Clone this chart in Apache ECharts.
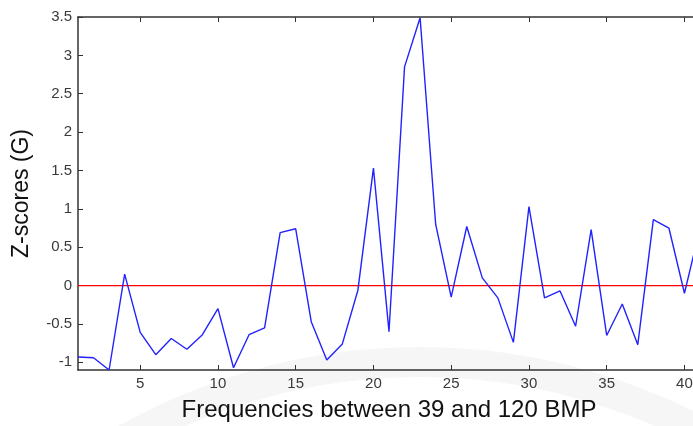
<!DOCTYPE html>
<html>
<head>
<meta charset="utf-8">
<script src="https://cdn.jsdelivr.net/npm/echarts@6/dist/echarts.min.js"></script>
<style>
html,body{margin:0;padding:0;background:#fff;}
#chart{width:693px;height:426px;}
</style>
</head>
<body>
<div id="chart"></div>
<script>
const frequencies = [1,2,3,4,5,6,7,8,9,10,11,12,13,14,15,16,17,18,19,20,21,22,23,24,25,26,27,28,29,30,31,32,33,34,35,36,37,38,39,40,41];
const zScores = [-0.93,-0.94,-1.1,0.15,-0.61,-0.9,-0.69,-0.83,-0.64,-0.3,-1.07,-0.64,-0.55,0.69,0.74,-0.47,-0.97,-0.76,-0.06,1.53,-0.6,2.85,3.49,0.8,-0.15,0.77,0.1,-0.16,-0.74,1.03,-0.16,-0.07,-0.53,0.73,-0.65,-0.24,-0.77,0.86,0.75,-0.1,0.75];
const zeroLineX = [1,41];
const zeroLineY = [0,0];
const xTicks = [5,10,15,20,25,30,35,40];
const yTicks = [-1,-0.5,0,0.5,1,1.5,2,2.5,3,3.5];
const xTitle = 'Frequencies between 39 and 120 BMP';
const yTitle = 'Z-scores (G)';

const axisColor = '#333';
const chart = echarts.init(document.getElementById('chart'));
const tickStyle = {show:true, inside:true, length:5, lineStyle:{color:axisColor,width:1}};
chart.setOption({
  animation:false,
  backgroundColor:'#fff',
  graphic:[{
    type:'circle', z:-10, silent:true,
    shape:{cx:420, cy:962, r:600},
    style:{fill:'none', stroke:'#f6f6f6', lineWidth:30}
  }],
  grid:{left:78, top:17, right:-7, bottom:56, outerBoundsMode:'none', containLabel:false},
  xAxis:[{
    type:'value', min:1, max:41,
    name:xTitle, nameLocation:'middle', nameGap:28,
    nameTextStyle:{fontFamily:'Liberation Sans, Arial', fontSize:24, color:'#111'},
    axisLine:{show:true, onZero:false, lineStyle:{color:axisColor,width:1.5}},
    axisTick:Object.assign({customValues:xTicks}, tickStyle),
    axisLabel:{customValues:xTicks, fontFamily:'Liberation Sans, Arial', fontSize:15, color:'#3a3a3a', margin:6},
    splitLine:{show:false}
  },{
    type:'value', min:1, max:41, position:'top',
    axisLine:{show:true, onZero:false, lineStyle:{color:axisColor,width:1.5}},
    axisTick:Object.assign({customValues:xTicks}, tickStyle),
    axisLabel:{show:false}, splitLine:{show:false}
  }],
  yAxis:[{
    type:'value', min:-1.1, max:3.5,
    name:yTitle, nameLocation:'middle', nameGap:45,
    nameTextStyle:{fontFamily:'Liberation Sans, Arial', fontSize:23, color:'#111'},
    axisLine:{show:true, onZero:false, lineStyle:{color:axisColor,width:1.5}},
    axisTick:Object.assign({customValues:yTicks}, tickStyle),
    axisLabel:{customValues:yTicks, fontFamily:'Liberation Sans, Arial', fontSize:15, color:'#3a3a3a', margin:6},
    splitLine:{show:false}
  },{
    type:'value', min:-1.1, max:3.5, position:'right',
    axisLine:{show:true, onZero:false, lineStyle:{color:axisColor,width:1.5}},
    axisTick:Object.assign({customValues:yTicks}, tickStyle),
    axisLabel:{show:false}, splitLine:{show:false}
  }],
  series:[{
    type:'line',
    data:zeroLineX.map((x,i)=>[x, zeroLineY[i]]),
    showSymbol:false, symbol:'none',
    lineStyle:{color:'#ff0000', width:1.3},
    silent:true, z:2
  },{
    type:'line',
    data:frequencies.map((x,i)=>[x, zScores[i]]),
    showSymbol:false, symbol:'none',
    lineStyle:{color:'#2222ff', width:1.4},
    silent:true, z:3
  }]
});
</script>
</body>
</html>
